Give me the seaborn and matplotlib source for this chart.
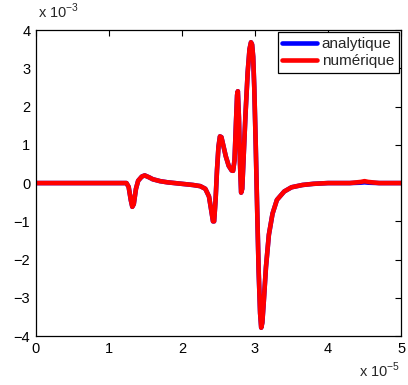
import matplotlib
matplotlib.use('Agg')
import matplotlib.pyplot as plt
import seaborn as sns
import numpy as np
import pandas as pd

# values (t in 1e-5, signal in 1e-3)
t_pts = [0.0, 1.24, 1.27, 1.30, 1.32, 1.34, 1.37, 1.40, 1.45, 1.49, 1.55, 1.60,
         1.70, 1.80, 2.00, 2.15, 2.25, 2.32, 2.37, 2.40, 2.425, 2.44, 2.46, 2.48,
         2.50, 2.52, 2.54, 2.57, 2.60, 2.64, 2.68, 2.70, 2.72, 2.74, 2.755, 2.765,
         2.78, 2.795, 2.81, 2.825, 2.84, 2.87, 2.90, 2.925, 2.945, 2.96, 2.975,
         2.99, 3.01, 3.03, 3.05, 3.07, 3.085, 3.10, 3.12, 3.15, 3.19, 3.24, 3.30,
         3.40, 3.50, 3.65, 3.80, 4.00, 4.30, 4.45, 4.50, 4.55, 4.70, 5.0]
analytique = [0.0, 0.0, -0.1, -0.45, -0.62, -0.55, -0.15, 0.06, 0.17, 0.2, 0.15, 0.1,
              0.05, 0.02, -0.02, -0.05, -0.08, -0.15, -0.35, -0.7, -1.0, -1.0, -0.45, 0.35,
              0.95, 1.22, 1.2, 0.95, 0.7, 0.45, 0.33, 0.32, 0.6, 1.6, 2.3, 2.4,
              1.7, 0.5, -0.25, -0.15, 0.5, 1.8, 2.9, 3.5, 3.68, 3.62, 3.3,
              2.5, 1.0, -0.7, -2.3, -3.4, -3.78, -3.65, -3.1, -2.2, -1.35, -0.8, -0.44,
              -0.22, -0.11, -0.05, -0.02, 0.0, 0.0, 0.01, 0.02, 0.01, 0.0, 0.0]
numerique = [0.0, 0.0, -0.1, -0.45, -0.62, -0.55, -0.15, 0.06, 0.17, 0.2, 0.15, 0.1,
             0.05, 0.02, -0.02, -0.05, -0.08, -0.15, -0.35, -0.7, -1.0, -1.0, -0.45, 0.35,
             0.95, 1.22, 1.2, 0.95, 0.7, 0.45, 0.33, 0.32, 0.6, 1.6, 2.3, 2.4,
             1.7, 0.5, -0.25, -0.15, 0.5, 1.8, 2.9, 3.5, 3.68, 3.62, 3.3,
             2.5, 1.0, -0.7, -2.3, -3.4, -3.78, -3.65, -3.1, -2.2, -1.35, -0.8, -0.44,
             -0.22, -0.11, -0.05, -0.02, 0.0, 0.0, 0.03, 0.05, 0.03, 0.0, 0.0]
series_names = ['analytique', 'numérique']
series_colors = ['#0000ff', '#ff0000']

t = np.array(t_pts) * 1e-5
df = pd.concat([
    pd.DataFrame({'t': t, 'v': np.array(analytique) * 1e-3, 'serie': series_names[0]}),
    pd.DataFrame({'t': t, 'v': np.array(numerique) * 1e-3, 'serie': series_names[1]}),
])

sns.set_style('white')
plt.rcParams['font.family'] = ['Liberation Sans', 'DejaVu Sans']
plt.rcParams['mathtext.fontset'] = 'custom'
plt.rcParams['mathtext.rm'] = 'Liberation Sans'

fig = plt.figure(figsize=(4.08, 3.85), dpi=100)
ax = fig.add_axes([0.088, 0.127, 0.895, 0.795])

sns.lineplot(data=df, x='t', y='v', hue='serie', hue_order=series_names,
             palette=series_colors, linewidth=3.3, sort=False, estimator=None, ax=ax)

ax.set_xlim(0, 5e-5)
ax.set_ylim(-4e-3, 4e-3)
xt = np.arange(0, 6)
yt = np.arange(-4, 5)
ax.set_xticks(xt * 1e-5)
ax.set_xticklabels([str(v) for v in xt])
ax.set_yticks(yt * 1e-3)
ax.set_yticklabels([str(v).replace('-', '\u2212') for v in yt])
ax.set_xlabel('')
ax.set_ylabel('')

# exponent labels, MATLAB style
fig.text(0.093, 0.945, 'x 10$^{-3}$', fontsize=10.5, ha='left', va='bottom')
fig.text(0.98, 0.012, 'x 10$^{-5}$', fontsize=10.5, ha='right', va='bottom')

ax.tick_params(direction='in', top=True, right=True, length=4, width=0.8,
               labelsize=10.5, colors='black', pad=4)
for s in ax.spines.values():
    s.set_color('black')
    s.set_linewidth(0.9)

leg = ax.legend(loc='upper right', fontsize=11, fancybox=False, framealpha=1,
                edgecolor='black', borderaxespad=0.15, handlelength=2.3,
                handletextpad=0.3, borderpad=0.3, labelspacing=0.2)
leg.get_frame().set_linewidth(0.9)
for line in leg.get_lines():
    line.set_linewidth(3.3)

fig.savefig('out.png', dpi=100)
